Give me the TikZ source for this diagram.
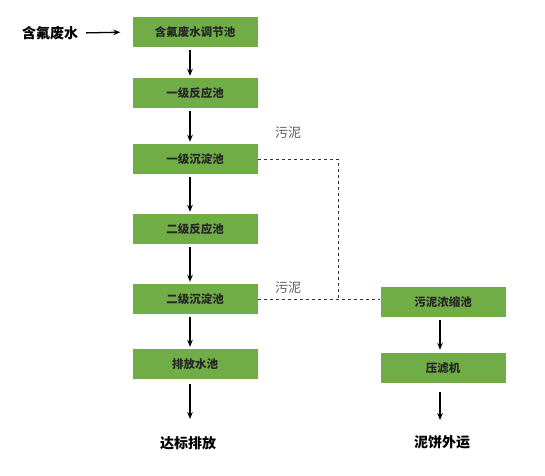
\documentclass[tikz,border=0pt]{standalone}
\usepackage{fontspec}
\setmainfont{Noto Sans CJK SC}
\usetikzlibrary{arrows.meta, positioning, calc}

\definecolor{boxgreen}{RGB}{112,173,71}
\definecolor{labelgray}{RGB}{90,90,90}

\begin{document}
\begin{tikzpicture}[x=1pt, y=-1pt,
    stage/.style={rectangle, fill=boxgreen, align=center, minimum height=30pt, minimum width=125pt, inner sep=0pt, font=\fontsize{11.5}{13}\selectfont\bfseries, text=black!85},
    term/.style={align=center, inner sep=1pt, font=\fontsize{14}{16}\selectfont\bfseries},
    tag/.style={inner sep=0pt, font=\fontsize{13}{15}\selectfont, text=labelgray},
    arrow/.style={-{Stealth[length=7pt, width=5.5pt]}, line width=1.3pt},
    sludge/.style={dashed, line width=0.6pt, black!80}
]
\useasboundingbox (0,0) rectangle (545,475);

% Main treatment line
\node[term] (inflow) at (50, 33) {含氟废水};
\node[stage] (adjust)   at (195, 32)  {含氟废水调节池};
\node[stage] (react1)   at (195, 93)  {一级反应池};
\node[stage] (settle1)  at (195, 159) {一级沉淀池};
\node[stage] (react2)   at (195, 229) {二级反应池};
\node[stage] (settle2)  at (195, 299) {二级沉淀池};
\node[stage] (outpool)  at (195, 364) {排放水池};
\node[term] (discharge) at (188, 443) {达标排放};

% Sludge line
\node[stage] (thicken) at (443, 302) {污泥浓缩池};
\node[stage] (press)   at (443, 368) {压滤机};
\node[term] (cake)     at (442, 442) {泥饼外运};

\node[tag] (tag1) at (288, 133) {污泥};
\node[tag] (tag2) at (288, 288) {污泥};

% Water flow arrows
\draw[arrow, shorten <=7pt, shorten >=12pt] (inflow.east) -- (adjust.west);
\draw[arrow, shorten <=3pt, shorten >=2pt] ([xshift=-5pt]adjust.south)  -- ([xshift=-5pt]react1.north);
\draw[arrow, shorten <=3pt, shorten >=2pt] ([xshift=-5pt]react1.south)  -- ([xshift=-5pt]settle1.north);
\draw[arrow, shorten <=3pt, shorten >=2pt] ([xshift=-5pt]settle1.south) -- ([xshift=-5pt]react2.north);
\draw[arrow, shorten <=3pt, shorten >=2pt] ([xshift=-5pt]react2.south)  -- ([xshift=-5pt]settle2.north);
\draw[arrow, shorten <=3pt, shorten >=2pt] ([xshift=-5pt]settle2.south) -- ([xshift=-5pt]outpool.north);
\draw[arrow, shorten <=5pt, shorten >=16pt] ([xshift=-5pt]outpool.south) -- ([xshift=2pt]discharge.north);

% Sludge arrows
\coordinate (joint) at (338, 299);
\draw[sludge] (settle1.east) -- (settle1.east -| joint) -- (joint);
\draw[sludge] (settle2.east) -- (settle2.east -| thicken.west);
\draw[arrow, shorten <=3pt, shorten >=3pt] ([xshift=-3pt]thicken.south) -- ([xshift=-3pt]press.north);
\draw[arrow, shorten <=9pt, shorten >=14pt] ([xshift=-3pt]press.south) -- ([xshift=-2pt]cake.north);

\end{tikzpicture}
\end{document}
